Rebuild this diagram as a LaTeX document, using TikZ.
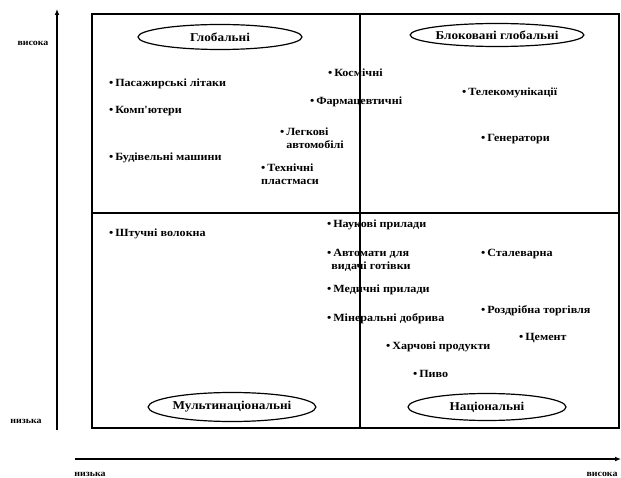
\documentclass[tikz,border=0pt]{standalone}
\usepackage{fontspec}
\setmainfont{Liberation Serif}
\newfontfamily\wideserif[FakeStretch=1.1]{Liberation Serif}
\usetikzlibrary{arrows.meta,shapes.geometric}
\begin{document}
\begin{tikzpicture}[x=1pt,y=-1pt,
  item/.style={anchor=base west,inner sep=0pt,align=left,
    font=\wideserif\bfseries\fontsize{11}{13.5}\selectfont},
  axlabel/.style={inner sep=0pt,font=\wideserif\bfseries\fontsize{9}{10}\selectfont},
  oval/.style={ellipse,draw,line width=1.2pt,inner sep=0pt,
    font=\wideserif\bfseries\fontsize{12}{13}\selectfont},
  frame/.style={line width=1.3pt},
  axis/.style={line width=1.6pt,-{Latex[length=6pt,width=5pt]}}]
\useasboundingbox (0,0) rectangle (621,478);
% frame
\coordinate (tl) at (92,14);
\coordinate (br) at (619,428);
\coordinate (mt) at (360,14);
\coordinate (mb) at (360,428);
\coordinate (ml) at (92,213);
\coordinate (mr) at (619,213);
\draw[frame] (tl) rectangle (br);
\draw[frame] (mt) -- (mb);
\draw[frame] (ml) -- (mr);
% axes
\coordinate (ya) at (57,430);
\coordinate (yb) at (57,9);
\coordinate (xa) at (75,459);
\coordinate (xb) at (621,459);
\draw[axis] (ya) -- (yb);
\draw[axis] (xa) -- (xb);
\node[axlabel] (yhi) at (33,43) {висока};
\node[axlabel] (ylo) at (26,421) {низька};
\node[axlabel] (xlo) at (90,474) {низька};
\node[axlabel] (xhi) at (602,474) {висока};
% ovals
\node[oval,minimum width=164pt,minimum height=25pt] (glob) at (220,37) {Глобальні};
\node[oval,minimum width=160pt,minimum height=23pt] (blok) at (497,35) {Блоковані глобальні};
\node[oval,minimum width=163pt,minimum height=29pt] (mult) at (232,407) {Мультинаціональні};
\node[oval,minimum width=158pt,minimum height=27pt] (nats) at (487,407) {Національні};
% items
\node[item] (pas) at (109,87) {•\,Пасажирські літаки};
\node[item] (komp) at (109,114) {•\,Комп'ютери};
\node[item] (bud) at (109,161) {•\,Будівельні машини};
\node[item] (kosm) at (328,77) {•\,Космічні};
\node[item] (farm) at (310,105) {•\,Фармацевтичні};
\node[item] (legk) at (280,149) {•\,Легкові\\\hphantom{•\,}автомобілі};
\node[item] (tekh) at (261,185) {•\,Технічні\\пластмаси};
\node[item] (tele) at (462,96) {•\,Телекомунікації};
\node[item] (gen) at (481,142) {•\,Генератори};
\node[item] (shtu) at (109,237) {•\,Штучні волокна};
\node[item] (nauk) at (327,228) {•\,Наукові прилади};
\node[item] (avto) at (327,270) {•\,Автомати для\\\hphantom{•}видачі готівки};
\node[item] (med) at (327,293) {•\,Медичні прилади};
\node[item] (min) at (327,322) {•\,Мінеральні добрива};
\node[item] (stal) at (481,257) {•\,Сталеварна};
\node[item] (rozd) at (481,313) {•\,Роздрібна торгівля};
\node[item] (tsem) at (519,340) {•\,Цемент};
\node[item] (kharch) at (386,349) {•\,Харчові продукти};
\node[item] (pyvo) at (413,377) {•\,Пиво};
\end{tikzpicture}
\end{document}
